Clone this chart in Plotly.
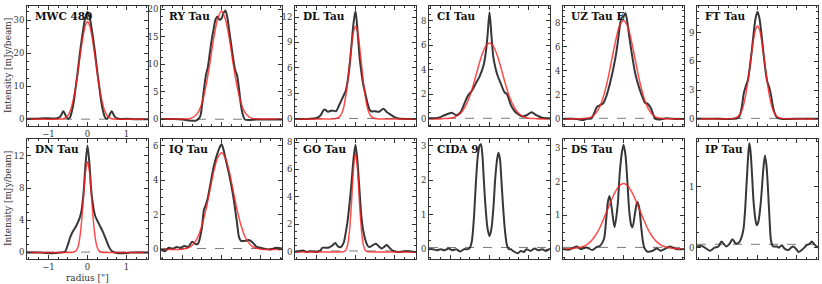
import plotly.graph_objects as go

# ---------------- data ----------------
names = ["MWC 480", "RY Tau", "DL Tau", "CI Tau", "UZ Tau E", "FT Tau",
         "DN Tau", "IQ Tau", "GO Tau", "CIDA 9", "DS Tau", "IP Tau"]

# observed profiles (black)
mwc480_x = [-1.55, -1.2, -1.0, -0.8, -0.7, -0.62, -0.55, -0.5, -0.45, -0.4, -0.35, -0.3, -0.25, -0.2, -0.15, -0.1, -0.05, 0,
            0.05, 0.1, 0.15, 0.2, 0.25, 0.3, 0.35, 0.4, 0.45, 0.5, 0.55, 0.62, 0.7, 0.8, 1.0, 1.2, 1.55]
mwc480_y = [0.2, 0.3, 0.4, 0.3, 0.8, 2.5, 1.0, 0.2, 0.6, 2.5, 5.5, 10, 14.5, 19.5, 24, 28, 31, 32.5,
            31, 28, 24, 19.5, 14.5, 10, 5.5, 2.5, 0.6, 0.2, 1.0, 2.5, 0.8, 0.2, 0.2, 0.1, 0.1]

rytau_x = [-1.55, -1.2, -1.0, -0.8, -0.65, -0.55, -0.5, -0.45, -0.4, -0.35, -0.3, -0.25, -0.2, -0.15, -0.1, -0.05, 0,
           0.05, 0.1, 0.15, 0.2, 0.25, 0.3, 0.35, 0.4, 0.45, 0.5, 0.55, 0.6, 0.7, 0.9, 1.2, 1.55]
rytau_y = [0.1, 0.1, 0.0, -0.2, -0.2, 0.5, 2.5, 5.5, 8.0, 9.5, 12, 14.5, 16.5, 18.2, 18.7, 18.1, 18.3,
           19.3, 19.8, 18.5, 16, 13.5, 11, 9, 8, 5.5, 2.5, 0.8, 0.0, -0.1, 0.0, 0.0, 0.0]

dltau_x = [-1.55, -1.2, -1.0, -0.9, -0.8, -0.7, -0.6, -0.5, -0.45, -0.4, -0.35, -0.3, -0.25, -0.2, -0.15, -0.1, -0.05, 0,
           0.05, 0.1, 0.15, 0.2, 0.25, 0.3, 0.35, 0.4, 0.5, 0.6, 0.72, 0.8, 0.9, 1.0, 1.1, 1.55]
dltau_y = [0.0, 0.0, 0.1, 0.4, 1.1, 0.85, 1.0, 0.9, 1.3, 1.8, 2.3, 2.8, 3.3, 4.5, 6.3, 8.8, 11.3, 12.7,
           10.5, 7.5, 5.5, 4.0, 3.0, 2.0, 1.2, 0.9, 0.9, 0.85, 1.2, 0.8, 0.5, 0.2, 0.05, 0.0]

citau_x = [-1.55, -1.3, -1.15, -0.97, -0.85, -0.75, -0.65, -0.55, -0.45, -0.35, -0.25, -0.15, -0.1, -0.05, 0,
           0.05, 0.1, 0.15, 0.2, 0.3, 0.38, 0.45, 0.55, 0.65, 0.75, 0.85, 0.95, 1.08, 1.2, 1.35, 1.55]
citau_y = [0.05, 0.1, 0.3, 0.5, 0.3, 0.5, 1.2, 1.9, 2.3, 2.9, 3.5, 4.4, 5.3, 6.8, 8.7,
           6.8, 5.0, 4.2, 3.6, 2.8, 2.2, 2.0, 1.1, 0.6, 0.35, 0.2, 0.3, 0.55, 0.3, 0.1, 0.05]

uztau_x = [-1.55, -1.2, -1.05, -0.95, -0.82, -0.75, -0.68, -0.6, -0.52, -0.45, -0.4, -0.3, -0.2, -0.15, -0.1, -0.05, 0,
           0.05, 0.1, 0.15, 0.2, 0.3, 0.4, 0.5, 0.55, 0.62, 0.7, 0.77, 0.82, 0.9, 1.1, 1.3, 1.55]
uztau_y = [0.0, 0.0, -0.1, 0.0, 0.05, 0.5, 1.0, 1.15, 1.3, 1.8, 2.3, 3.6, 5.2, 6.3, 7.6, 8.4, 8.5,
           8.8, 8.0, 6.8, 5.7, 3.8, 2.6, 1.7, 1.35, 1.25, 0.9, 0.3, 0.0, -0.05, 0.05, 0.0, 0.0]

fttau_x = [-1.55, -1.0, -0.6, -0.5, -0.45, -0.4, -0.35, -0.3, -0.25, -0.2, -0.15, -0.1, -0.05, 0,
           0.05, 0.1, 0.15, 0.2, 0.25, 0.3, 0.35, 0.4, 0.45, 0.5, 0.6, 1.0, 1.55]
fttau_y = [0.0, 0.0, 0.0, 0.1, 0.4, 1.3, 2.7, 3.4, 4.0, 5.3, 7.0, 8.9, 10.5, 11.2,
           10.5, 8.9, 7.0, 5.2, 3.9, 3.3, 2.4, 1.2, 0.5, 0.15, 0.0, 0.0, 0.0]

dntau_x = [-1.55, -1.2, -0.9, -0.7, -0.58, -0.5, -0.45, -0.4, -0.3, -0.2, -0.15, -0.1, -0.05, 0,
           0.05, 0.1, 0.15, 0.2, 0.3, 0.4, 0.5, 0.55, 0.62, 0.7, 0.9, 1.1, 1.55]
dntau_y = [0.0, 0.0, -0.1, 0.0, 0.1, 1.0, 1.8, 2.4, 3.2, 4.3, 5.3, 7.5, 11.0, 13.3,
           11.0, 7.5, 5.6, 4.5, 3.5, 2.5, 1.3, 0.7, 0.2, 0.0, -0.1, 0.0, 0.0]

iqtau_x = [-1.55, -1.45, -1.35, -1.25, -1.15, -1.05, -0.95, -0.85, -0.75, -0.65, -0.6, -0.55, -0.5, -0.45, -0.4, -0.35,
           -0.3, -0.2, -0.1, -0.05, 0, 0.05, 0.1, 0.2, 0.3, 0.4, 0.45, 0.5, 0.6, 0.7, 0.8, 0.9, 1.0, 1.1, 1.25, 1.4, 1.55]
iqtau_y = [0.0, -0.1, 0.1, 0.05, 0.15, 0.1, 0.2, 0.15, 0.45, 0.3, 0.35, 0.7, 1.3, 2.3, 2.6, 3.0,
           3.6, 4.8, 5.6, 5.9, 6.1, 5.8, 5.3, 4.3, 3.1, 1.5, 0.7, 0.5, 0.5, 0.55, 0.4, 0.15, 0.1, 0.05, 0.0, 0.1, 0.05]

gotau_x = [-1.55, -1.45, -1.35, -1.25, -1.15, -1.0, -0.9, -0.85, -0.7, -0.6, -0.52, -0.45, -0.38, -0.3, -0.25, -0.2,
           -0.15, -0.1, -0.05, 0, 0.05, 0.1, 0.15, 0.2, 0.25, 0.3, 0.35, 0.45, 0.52, 0.6, 0.67, 0.75, 0.8, 0.87,
           0.95, 1.1, 1.3, 1.55]
gotau_y = [0.0, 0.05, 0.1, 0.0, 0.05, 0.0, 0.1, 0.3, 0.3, 0.45, 0.65, 0.4, 0.35, 0.7, 1.4, 2.3,
           3.6, 5.1, 6.8, 7.8, 6.6, 4.6, 2.6, 1.5, 0.9, 0.5, 0.35, 0.5, 0.6, 0.4, 0.25, 0.4, 0.5, 0.3,
           0.1, 0.0, 0.05, 0.0]

cida9_x = [-1.55, -1.45, -1.35, -1.25, -1.15, -1.05, -0.95, -0.85, -0.75, -0.65, -0.55, -0.5, -0.45, -0.4, -0.35,
           -0.3, -0.25, -0.22, -0.18, -0.15, -0.1, -0.05, 0, 0.05, 0.1, 0.15, 0.2, 0.23, 0.27, 0.3, 0.35, 0.4,
           0.45, 0.5, 0.55, 0.6, 0.72, 0.8, 0.88, 0.95, 1.05, 1.15, 1.25, 1.35, 1.45, 1.55]
cida9_y = [0.0, 0.0, -0.03, 0.0, -0.03, 0.02, -0.03, 0.0, -0.07, 0.0, 0.0, 0.05, 0.25, 0.9, 1.9,
           2.7, 3.02, 3.05, 2.7, 2.1, 1.2, 0.6, 0.38, 0.6, 1.2, 2.1, 2.65, 2.8, 2.6, 2.1, 1.2, 0.5,
           0.1, 0.0, 0.0, -0.05, -0.12, -0.05, -0.08, 0.0, -0.05, 0.02, -0.03, 0.0, -0.05, 0.02]

dstau_x = [-1.55, -1.4, -1.2, -1.1, -0.95, -0.8, -0.7, -0.6, -0.5, -0.45, -0.4, -0.36, -0.3, -0.23, -0.15, -0.1,
           -0.05, 0, 0.05, 0.1, 0.15, 0.2, 0.23, 0.3, 0.35, 0.4, 0.45, 0.5, 0.55, 0.62, 0.75, 0.85, 0.95, 1.05,
           1.2, 1.35, 1.55]
dstau_y = [0.0, -0.02, 0.08, 0.0, 0.05, -0.03, 0.05, 0.1, 0.3, 0.8, 1.4, 1.58, 1.2, 0.65, 1.3, 2.2,
           2.8, 3.1, 2.8, 2.0, 1.1, 0.7, 0.65, 1.1, 1.4, 1.25, 0.7, 0.2, 0.0, -0.08, -0.05, 0.02, -0.05, 0.0,
           0.08, 0.0, 0.0]

iptau_x = [-1.55, -1.45, -1.35, -1.22, -1.1, -1.0, -0.92, -0.8, -0.72, -0.64, -0.56, -0.48, -0.42, -0.36, -0.32,
           -0.28, -0.24, -0.21, -0.18, -0.14, -0.1, -0.05, -0.02, 0.02, 0.07, 0.11, 0.15, 0.19, 0.23, 0.27, 0.31,
           0.35, 0.4, 0.5, 0.55, 0.62, 0.7, 0.79, 0.86, 0.92, 1.0, 1.05, 1.13, 1.2, 1.26, 1.33, 1.39, 1.46, 1.55]
iptau_y = [0.02, 0.03, 0.0, -0.05, 0.0, 0.02, 0.1, 0.02, 0.06, 0.14, 0.07, 0.08, 0.15, 0.3, 0.6,
           1.05, 1.5, 1.72, 1.6, 1.2, 0.75, 0.45, 0.37, 0.42, 0.65, 0.95, 1.3, 1.52, 1.35, 0.95, 0.45,
           0.1, 0.02, 0.02, 0.0, 0.04, -0.02, -0.04, 0.0, 0.02, -0.03, -0.07, -0.04, 0.0, 0.04, 0.06, 0.1, 0.05, 0.0]

# model profiles (red)
mwc480_mx = [-1.55, -1.0, -0.8, -0.6, -0.5, -0.45, -0.4, -0.35, -0.3, -0.25, -0.2, -0.15, -0.1, -0.05, 0,
             0.05, 0.1, 0.15, 0.2, 0.25, 0.3, 0.35, 0.4, 0.45, 0.5, 0.6, 0.8, 1.0, 1.55]
mwc480_my = [0.1, 0.1, 0.1, 0.3, 1.2, 2.4, 4.2, 6.8, 10, 14, 18.3, 22.5, 26, 28.5, 29.6,
             28.5, 26, 22.5, 18.3, 14, 10, 6.8, 4.2, 2.4, 1.2, 0.3, 0.1, 0.1, 0.1]

rytau_mx = [-1.55, -1.0, -0.8, -0.7, -0.6, -0.5, -0.4, -0.3, -0.2, -0.1, 0,
            0.1, 0.2, 0.3, 0.4, 0.5, 0.6, 0.7, 0.8, 1.0, 1.55]
rytau_my = [0.1, 0.1, 0.2, 0.5, 1.3, 3.0, 6.0, 10.1, 14.7, 18.2, 19.7,
            18.2, 14.7, 10.1, 6.0, 3.0, 1.3, 0.5, 0.2, 0.1, 0.1]

dltau_mx = [-1.55, -0.6, -0.5, -0.4, -0.35, -0.3, -0.25, -0.2, -0.15, -0.1, -0.05, 0,
            0.05, 0.1, 0.15, 0.2, 0.25, 0.3, 0.35, 0.4, 0.5, 0.6, 1.55]
dltau_my = [0.0, 0.0, 0.04, 0.3, 0.7, 1.4, 2.7, 4.4, 6.6, 8.7, 10.3, 10.9,
            10.3, 8.7, 6.6, 4.4, 2.7, 1.4, 0.7, 0.3, 0.04, 0.0, 0.0]

citau_mx = [-1.55, -1.2, -1.0, -0.9, -0.8, -0.7, -0.6, -0.5, -0.4, -0.3, -0.2, -0.1, 0,
            0.1, 0.2, 0.3, 0.4, 0.5, 0.6, 0.7, 0.8, 0.9, 1.0, 1.2, 1.55]
citau_my = [0.0, 0.02, 0.06, 0.14, 0.30, 0.62, 1.14, 1.91, 2.93, 4.1, 5.17, 5.92, 6.2,
            5.92, 5.17, 4.1, 2.93, 1.91, 1.14, 0.62, 0.30, 0.14, 0.06, 0.02, 0.0]

uztau_mx = [-1.55, -1.0, -0.9, -0.8, -0.7, -0.6, -0.5, -0.4, -0.3, -0.2, -0.1, 0,
            0.1, 0.2, 0.3, 0.4, 0.5, 0.6, 0.7, 0.8, 0.9, 1.0, 1.55]
uztau_my = [0.0, 0.03, 0.08, 0.22, 0.52, 1.08, 2.02, 3.33, 4.93, 6.53, 7.76, 8.2,
            7.76, 6.53, 4.93, 3.33, 2.02, 1.08, 0.52, 0.22, 0.08, 0.03, 0.0]

fttau_mx = [-1.55, -0.8, -0.6, -0.5, -0.4, -0.35, -0.3, -0.25, -0.2, -0.15, -0.1, -0.05, 0,
            0.05, 0.1, 0.15, 0.2, 0.25, 0.3, 0.35, 0.4, 0.5, 0.6, 0.8, 1.55]
fttau_my = [0.0, 0.0, 0.05, 0.23, 0.89, 1.56, 2.53, 3.83, 5.29, 6.93, 8.34, 9.34, 9.7,
            9.34, 8.34, 6.93, 5.29, 3.83, 2.53, 1.56, 0.89, 0.23, 0.05, 0.0, 0.0]

dntau_mx = [-1.55, -0.5, -0.4, -0.3, -0.25, -0.2, -0.15, -0.1, -0.05, 0,
            0.05, 0.1, 0.15, 0.2, 0.25, 0.3, 0.4, 0.5, 1.55]
dntau_my = [0.0, 0.0, 0.01, 0.17, 0.62, 1.76, 3.97, 7.1, 10.06, 11.3,
            10.06, 7.1, 3.97, 1.76, 0.62, 0.17, 0.01, 0.0, 0.0]

iqtau_mx = [-1.55, -1.0, -0.9, -0.8, -0.7, -0.6, -0.5, -0.4, -0.3, -0.2, -0.1, 0,
            0.1, 0.2, 0.3, 0.4, 0.5, 0.6, 0.7, 0.8, 0.9, 1.0, 1.55]
iqtau_my = [0.0, 0.02, 0.07, 0.16, 0.37, 0.75, 1.4, 2.3, 3.4, 4.5, 5.3, 5.6,
            5.3, 4.5, 3.4, 2.3, 1.4, 0.75, 0.37, 0.16, 0.07, 0.02, 0.0]

gotau_mx = [-1.55, -0.4, -0.3, -0.25, -0.2, -0.15, -0.1, -0.05, 0,
            0.05, 0.1, 0.15, 0.2, 0.25, 0.3, 0.4, 1.55]
gotau_my = [0.0, 0.0, 0.02, 0.12, 0.53, 1.65, 3.7, 6.1, 7.2,
            6.1, 3.7, 1.65, 0.53, 0.12, 0.02, 0.0, 0.0]

dstau_mx = [-1.55, -1.4, -1.2, -1.0, -0.9, -0.8, -0.7, -0.6, -0.5, -0.4, -0.3, -0.2, -0.1, 0,
            0.1, 0.2, 0.3, 0.4, 0.5, 0.6, 0.7, 0.8, 0.9, 1.0, 1.2, 1.4, 1.55]
dstau_my = [0.0, 0.01, 0.03, 0.09, 0.17, 0.28, 0.44, 0.65, 0.92, 1.20, 1.48, 1.72, 1.89, 1.95,
            1.89, 1.72, 1.48, 1.20, 0.92, 0.65, 0.44, 0.28, 0.17, 0.09, 0.03, 0.01, 0.0]

# dashed reference (noise) levels
ref_levels = [0.1, 0.05, 0.05, 0.05, 0.05, 0.05, 0.05, 0.06, 0.07, 0.05, 0.05, 0.055]

# y-axis ranges and tick steps
y_ranges = [[-2.0, 34.3], [-1.2, 20.6], [-0.85, 13.3], [-0.59, 9.22], [-0.6, 9.4], [-0.76, 11.8],
            [-0.83, 14.1], [-0.56, 6.4], [-0.53, 8.22], [-0.29, 3.2], [-0.3, 3.27], [-0.19, 1.79]]
y_dticks = [10, 5, 3, 2, 2, 3, 4, 2, 2, 1, 1, 1]
y_minor = [2.5, 1.25, 0.75, 0.5, 0.5, 0.75, 1, 0.5, 0.5, 0.25, 0.25, 0.25]

x_range = [-1.55, 1.55]
x_dtick = 1
x_minor = 0.25

obs = [(mwc480_x, mwc480_y), (rytau_x, rytau_y), (dltau_x, dltau_y), (citau_x, citau_y),
       (uztau_x, uztau_y), (fttau_x, fttau_y), (dntau_x, dntau_y), (iqtau_x, iqtau_y),
       (gotau_x, gotau_y), (cida9_x, cida9_y), (dstau_x, dstau_y), (iptau_x, iptau_y)]
models = [(mwc480_mx, mwc480_my), (rytau_mx, rytau_my), (dltau_mx, dltau_my), (citau_mx, citau_my),
          (uztau_mx, uztau_my), (fttau_mx, fttau_my), (dntau_mx, dntau_my), (iqtau_mx, iqtau_my),
          (gotau_mx, gotau_my), None, (dstau_mx, dstau_my), None]

# ---------------- figure ----------------
W, H = 822, 284
FONT = "DejaVu Serif"
AXC = "#333333"
lefts = [27, 161, 295, 429, 563, 697]
pw = 121
rows_px = [(4, 125), (138, 259)]

fig = go.Figure()
layout = {}
for i in range(12):
    r, c = divmod(i, 6)
    n = i + 1
    sx = "" if n == 1 else str(n)
    xd = [lefts[c] / W, (lefts[c] + pw) / W]
    top, bot = rows_px[r]
    yd = [1 - bot / H, 1 - top / H]

    ox, oy = obs[i]
    fig.add_trace(go.Scatter(x=ox, y=oy, mode="lines", xaxis="x" + sx, yaxis="y" + sx,
                             line=dict(color="rgba(20,20,20,0.85)", width=2, shape="spline", smoothing=0.8),
                             showlegend=False, hoverinfo="skip"))
    if models[i] is not None:
        mx, my = models[i]
        fig.add_trace(go.Scatter(x=mx, y=my, mode="lines", xaxis="x" + sx, yaxis="y" + sx,
                                 line=dict(color="rgba(255,30,30,0.8)", width=1.5, shape="spline", smoothing=0.8),
                                 showlegend=False, hoverinfo="skip"))

    layout["xaxis" + sx] = dict(
        domain=xd, anchor="y" + sx, range=x_range, dtick=x_dtick, tick0=0,
        ticks="inside", ticklen=4, tickwidth=1, tickcolor=AXC,
        minor=dict(ticks="inside", ticklen=2, dtick=x_minor, tick0=0, tickcolor=AXC),
        showline=True, linecolor=AXC, linewidth=1, mirror="allticks",
        showgrid=False, zeroline=False, showticklabels=(c == 0),
        tickfont=dict(family=FONT, size=8.5, color="#333"),
    )
    layout["yaxis" + sx] = dict(
        domain=yd, anchor="x" + sx, range=y_ranges[i], dtick=y_dticks[i], tick0=0,
        ticks="inside", ticklen=4, tickwidth=1, tickcolor=AXC,
        minor=dict(ticks="inside", ticklen=2, dtick=y_minor[i], tick0=0, tickcolor=AXC),
        showline=True, linecolor=AXC, linewidth=1, mirror="allticks",
        showgrid=False, zeroline=False,
        tickfont=dict(family=FONT, size=8.5, color="#333"),
    )

shapes = []
annotations = []
for i in range(12):
    n = i + 1
    sx = "" if n == 1 else str(n)
    shapes.append(dict(type="line", xref=("x" + sx + " domain"), yref="y" + sx,
                       x0=0, x1=1, y0=ref_levels[i], y1=ref_levels[i],
                       line=dict(color="rgba(90,90,90,0.8)", width=1, dash="dash"), layer="below"))
    annotations.append(dict(text="<b>" + names[i] + "</b>", xref="x" + sx + " domain", yref="y" + sx + " domain",
                            x=0.05, y=0.985, xanchor="left", yanchor="top", showarrow=False,
                            font=dict(family=FONT, size=10.5, color="#111")))

for top, bot in rows_px:
    annotations.append(dict(text="Intensity [mJy/beam]", xref="paper", yref="paper",
                            x=8 / W, y=1 - (top + bot) / 2 / H, textangle=-90, showarrow=False,
                            xanchor="center", yanchor="middle",
                            font=dict(family=FONT, size=9, color="#333")))
annotations.append(dict(text='radius ["]', xref="paper", yref="paper",
                        x=(lefts[0] + pw / 2) / W, y=1 - 277.5 / H, showarrow=False,
                        xanchor="center", yanchor="middle",
                        font=dict(family=FONT, size=9, color="#333")))

fig.update_layout(width=W, height=H, margin=dict(l=0, r=0, t=0, b=0),
                  paper_bgcolor="white", plot_bgcolor="white",
                  shapes=shapes, annotations=annotations, **layout)

fig.write_html("out.html", config={"displayModeBar": False},
               post_script="document.body.style.margin='0';document.body.style.padding='0';")
